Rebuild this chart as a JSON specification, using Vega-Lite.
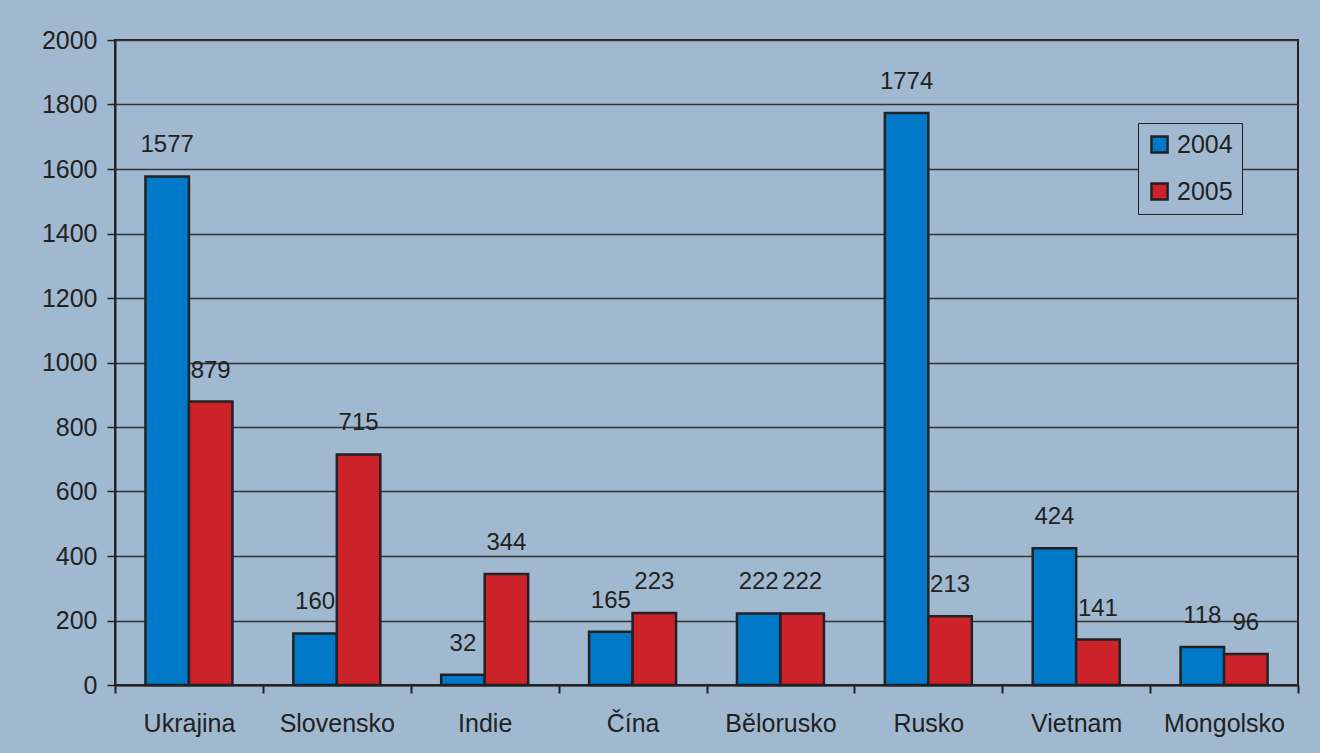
{
  "$schema": "https://vega.github.io/schema/vega-lite/v6.json",
  "width": 1183,
  "height": 645,
  "autosize": {"type": "none"},
  "padding": {"left": 115, "top": 40, "right": 22, "bottom": 68},
  "background": "#a0b9d0",
  "config": {
    "font": "Liberation Sans",
    "view": {"stroke": "#222222", "strokeWidth": 2, "fill": "#a0b9d0"}
  },
  "data": {
    "values": [
      {"country": "Ukrajina", "year": "2004", "value": 1577},
      {"country": "Ukrajina", "year": "2005", "value": 879},
      {"country": "Slovensko", "year": "2004", "value": 160},
      {"country": "Slovensko", "year": "2005", "value": 715},
      {"country": "Indie", "year": "2004", "value": 32},
      {"country": "Indie", "year": "2005", "value": 344},
      {"country": "Čína", "year": "2004", "value": 165},
      {"country": "Čína", "year": "2005", "value": 223},
      {"country": "Bělorusko", "year": "2004", "value": 222},
      {"country": "Bělorusko", "year": "2005", "value": 222},
      {"country": "Rusko", "year": "2004", "value": 1774},
      {"country": "Rusko", "year": "2005", "value": 213},
      {"country": "Vietnam", "year": "2004", "value": 424},
      {"country": "Vietnam", "year": "2005", "value": 141},
      {"country": "Mongolsko", "year": "2004", "value": 118},
      {"country": "Mongolsko", "year": "2005", "value": 96}
    ]
  },
  "encoding": {
    "x": {
      "field": "country",
      "type": "nominal",
      "sort": null,
      "scale": {"paddingInner": 0, "paddingOuter": 0},
      "axis": {
        "title": null,
        "labelAngle": 0,
        "labelFontSize": 25,
        "labelColor": "#222222",
        "labelPadding": 18,
        "tickBand": "extent",
        "tickSize": 8,
        "tickColor": "#222222",
        "tickWidth": 2,
        "domainColor": "#222222",
        "domainWidth": 2,
        "grid": false
      }
    },
    "xOffset": {
      "field": "year",
      "type": "nominal",
      "scale": {"paddingInner": 0, "paddingOuter": 0.7}
    },
    "y": {
      "field": "value",
      "type": "quantitative",
      "scale": {"domain": [0, 2000], "nice": false},
      "axis": {
        "title": null,
        "format": "d",
        "values": [0, 200, 400, 600, 800, 1000, 1200, 1400, 1600, 1800, 2000],
        "labelFontSize": 25,
        "labelColor": "#222222",
        "labelPadding": 10,
        "tickSize": 8,
        "tickColor": "#222222",
        "tickWidth": 1.5,
        "domainColor": "#222222",
        "domainWidth": 2,
        "grid": true,
        "gridColor": "#333333",
        "gridWidth": 1.5,
        "gridOpacity": 1
      }
    }
  },
  "layer": [
    {
      "mark": {"type": "bar", "stroke": "#222222", "strokeWidth": 2.5},
      "encoding": {
        "color": {
          "field": "year",
          "type": "nominal",
          "scale": {"domain": ["2004", "2005"], "range": ["#0079c8", "#cc232a"]},
          "legend": {
            "title": null,
            "orient": "none",
            "legendX": 1023,
            "legendY": 83,
            "direction": "vertical",
            "symbolType": "square",
            "symbolSize": 260,
            "symbolStrokeColor": "#222222",
            "symbolStrokeWidth": 2.5,
            "labelFontSize": 25,
            "labelColor": "#222222",
            "labelOffset": 5,
            "rowPadding": 20,
            "padding": 9,
            "fillColor": "#a0b9d0",
            "strokeColor": "#222222"
          }
        }
      }
    },
    {
      "mark": {"type": "text", "dy": -31, "fontSize": 24, "color": "#222222", "baseline": "middle"},
      "encoding": {
        "text": {"field": "value", "type": "quantitative"}
      }
    }
  ]
}
